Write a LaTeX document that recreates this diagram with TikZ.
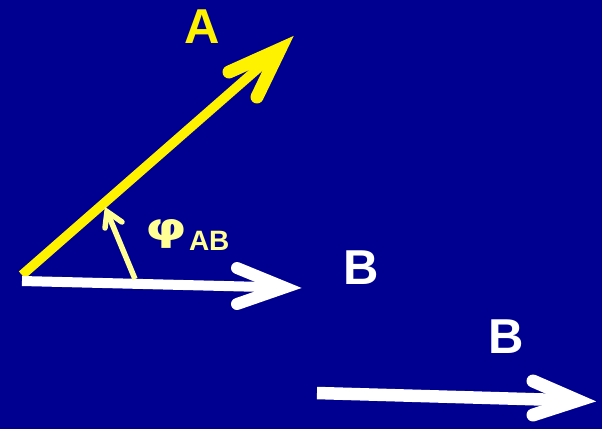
\documentclass[tikz,border=0pt]{standalone}
\usepackage{fontspec}
\setmainfont{Liberation Sans}
\newfontfamily\phifont{DejaVu Sans}
\definecolor{bgblue}{RGB}{0,0,144}
\definecolor{lightyel}{RGB}{255,255,150}
\tikzset{
  shaft/.style={line cap=butt},
  chev/.style={line cap=round, line join=miter, miter limit=20},
  lbl/.style={inner sep=0pt, outer sep=0pt, anchor=base, font=\bfseries\fontsize{49}{49}\selectfont},
}
\begin{document}
\begin{tikzpicture}[x=1pt,y=-1pt]
\fill[bgblue] (0,0) rectangle (602,429);
\useasboundingbox (0,0) rectangle (602,429);
% yellow vector A
\coordinate (atail) at (22,275);
\coordinate (atip) at (280.1,49.1);
\coordinate (aarm1) at (229,72);
\coordinate (aarm2) at (257,97);
\draw[yellow, line width=9.5pt, shaft] (atail) -- (atip);
\draw[yellow, line width=13pt, chev] (aarm1) -- (atip) -- (aarm2);
% white vector B (1)
\coordinate (btail) at (22,281);
\coordinate (btip) at (284.6,287.5);
\coordinate (barm1) at (237,268);
\coordinate (barm2) at (237,304);
\draw[white, line width=10pt, shaft] (btail) -- (btip);
\draw[white, line width=12pt, chev] (barm1) -- (btip) -- (barm2);
% white vector B (2)
\coordinate (ctail) at (317,393);
\coordinate (ctip) at (577.8,400.5);
\coordinate (carm1) at (533,381);
\coordinate (carm2) at (533,415);
\draw[white, line width=12.5pt, shaft] (ctail) -- (ctip);
\draw[white, line width=13pt, chev] (carm1) -- (ctip) -- (carm2);
% angle arrow
\coordinate (ptail) at (135,279);
\coordinate (ptip) at (107,211.6);
\coordinate (parm1) at (105,228);
\coordinate (parm2) at (122,222);
\draw[lightyel, line width=5.5pt, shaft] (ptail) -- (ptip);
\draw[lightyel, line width=5.5pt, chev] (parm1) -- (ptip) -- (parm2);
% labels
\node[lbl, text=yellow] (la) at (202,43) {A};
\node[lbl, text=white] (lb1) at (361,284) {B};
\node[lbl, text=white] (lb2) at (506,353) {B};
\node[lbl, text=lightyel, font=\phifont\bfseries\fontsize{38}{38}\selectfont] (lphi) at (166,240) {\scalebox{1.4}[1]{φ}};
\node[lbl, text=lightyel, anchor=base west, font=\bfseries\fontsize{28}{28}\selectfont] (lab) at (189,250) {AB};
\end{tikzpicture}
\end{document}
